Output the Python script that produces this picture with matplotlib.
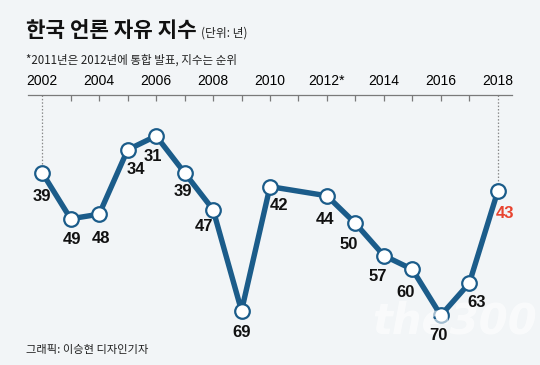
import matplotlib
matplotlib.use('Agg')
import matplotlib.pyplot as plt

# press freedom ranking (lower = better); 2011 was merged into 2012
years = [2002, 2003, 2004, 2005, 2006, 2007, 2008, 2009, 2010,
         2012, 2013, 2014, 2015, 2016, 2017, 2018]
ranks = [39, 49, 48, 34, 31, 39, 47, 69, 42, 44, 50, 57, 60, 70, 63, 43]

tick_years = list(range(2002, 2019))
tick_labels = ['2002', '', '2004', '', '2006', '', '2008', '', '2010', '',
               '2012*', '', '2014', '', '2016', '', '2018']

title = '한국 언론 자유 지수'
unit = '(단위: 년)'
note = '*2011년은 2012년에 통합 발표, 지수는 순위'
credit = '그래픽: 이승현 디자인기자'

BG = '#f2f5f7'
BLUE = '#1b5c8a'
RED = '#e8432f'
KR = ['Noto Sans CJK KR', 'DejaVu Sans']
NARROW = ['Liberation Sans Narrow', 'Liberation Sans', 'DejaVu Sans']

# label nudges in pixels (dx, dy below point)
nudge = [(0, 24), (1, 21), (2, 24), (8, 20), (-3, 21), (-2, 19), (-9, 17),
         (0, 22), (9, 19), (-2, 24), (-7, 21), (-6, 21), (-7, 23), (-2, 20),
         (7, 19), (7, 22)]

fig = plt.figure(figsize=(5.4, 3.65), dpi=100, facecolor=BG)
ax = fig.add_axes([28 / 540, 0, 484 / 540, 270 / 365])
ax.set_facecolor(BG)
ax.set_xlim(2001.5, 2018.5)
ax.set_ylim(80.78, 22.09)

for s in ['left', 'right', 'bottom']:
    ax.spines[s].set_visible(False)
ax.spines['top'].set_color('#7a7a7a')
ax.spines['top'].set_linewidth(0.9)
ax.yaxis.set_visible(False)
ax.xaxis.tick_top()
ax.set_xticks(tick_years)
ax.set_xticklabels(tick_labels, fontfamily=NARROW, fontsize=10)
ax.tick_params(axis='x', direction='in', length=4, width=0.9,
               color='#7a7a7a', pad=5)
ticks = ax.xaxis.get_major_ticks()
ticks[0].tick2line.set_visible(False)
ticks[-1].tick2line.set_visible(False)

# dotted guides to first and last years
top = ax.get_ylim()[1]
for yr, rk in [(years[0], ranks[0]), (years[-1], ranks[-1])]:
    ax.vlines(yr, top, rk, colors='#8a8a8a', linestyles=(0, (1.2, 1.5)),
              linewidth=0.9, zorder=1)

ax.plot(years, ranks, color=BLUE, linewidth=3.9, marker='o', markersize=10.5,
        markerfacecolor='white', markeredgecolor=BLUE, markeredgewidth=1.6,
        solid_joinstyle='round', clip_on=False, zorder=3)

for i, (yr, rk) in enumerate(zip(years, ranks)):
    dx, dy = nudge[i]
    col = RED if i == len(years) - 1 else '#111111'
    ax.annotate(str(rk), (yr, rk), xytext=(dx, -dy), textcoords='offset pixels',
                ha='center', va='center', fontsize=12, fontweight='bold',
                fontfamily=NARROW, color=col, zorder=5)

fig.text(26 / 540, 1 - 37 / 365, title, fontsize=15.3, fontweight='bold',
         fontfamily=KR, color='#111111', va='baseline')
fig.text(201 / 540, 1 - 37 / 365, unit, fontsize=8.5, fontfamily=KR,
         color='#222222', va='baseline')
fig.text(26 / 540, 1 - 64 / 365, note, fontsize=8.3, fontfamily=KR,
         color='#222222', va='baseline')
fig.text(26 / 540, 1 - 353 / 365, credit, fontsize=8.1, fontfamily=KR,
         color='#222222', va='baseline')

# faint watermark, drawn over the line but under the labels
ax.text(0.69, 0.085, 'the300', transform=fig.transFigure, fontsize=30,
        fontstyle='italic', fontweight='bold', color='white', alpha=0.6,
        zorder=4)

fig.savefig('out.png', dpi=100, facecolor=BG)
